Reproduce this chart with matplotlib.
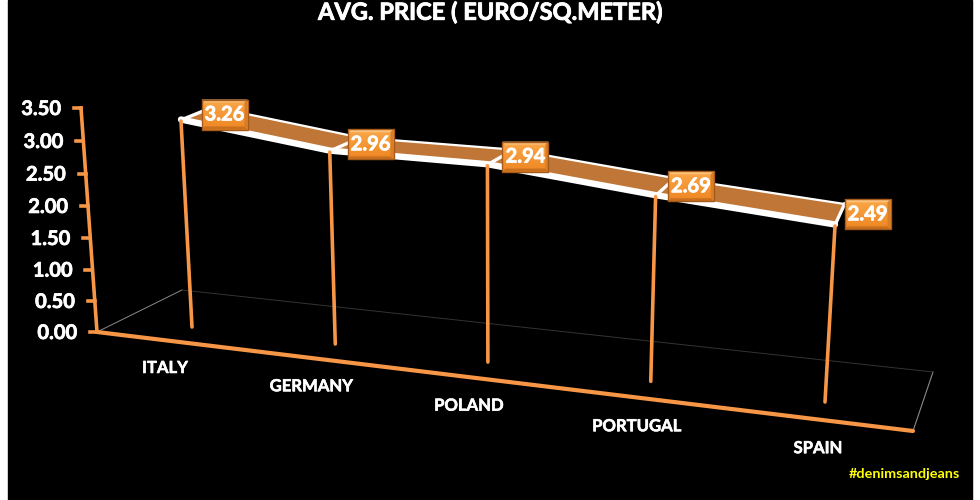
import matplotlib
matplotlib.use("Agg")
import matplotlib.pyplot as plt
import matplotlib.patheffects as pe
import numpy as np
from matplotlib.patches import Polygon, Rectangle

plt.rcParams['font.family'] = ['Lato', 'DejaVu Sans']

countries = ["ITALY", "GERMANY", "POLAND", "PORTUGAL", "SPAIN"]
prices = [3.26, 2.96, 2.94, 2.69, 2.49]
y_ticks = [0.0, 0.5, 1.0, 1.5, 2.0, 2.5, 3.0, 3.5]

ORANGE = "#f79646"
BROWN = "#c07636"


def fit_projection(src, dst):
    # plane (category, value) -> pixels on the 3d looking wall
    rows, rhs = [], []
    for (u, v), (x, y) in zip(src, dst):
        rows.append([u, v, 1, 0, 0, 0, -u * x, -v * x])
        rows.append([0, 0, 0, u, v, 1, -u * y, -v * y])
        rhs += [x, y]
    return np.append(np.linalg.solve(np.array(rows, float), np.array(rhs, float)), 1).reshape(3, 3)


H = fit_projection([(0, 0), (4, 0), (0, 3.26), (4, 2.49)],
                   [(192, 327), (825, 402), (181, 120), (835, 225)])


def project(t, v):
    p = H @ np.array([t, v, 1.0])
    return p[0] / p[2], p[1] / p[2]


def depth(t):
    # ribbon depth shrinks in x and grows in y towards the right
    return 32 - 1.4 * t ** 2, -13 - 0.5 * t ** 2


def bold(width):
    return [pe.withStroke(linewidth=width, foreground="white")]


fig = plt.figure(figsize=(9.8, 5), dpi=100, facecolor="white")
ax = fig.add_axes([0, 0, 1, 1])
ax.set_xlim(0, 980)
ax.set_ylim(500, 0)
ax.axis("off")
ax.add_patch(Rectangle((8, 0), 964, 500, color="black", zorder=0))

# floor
ax.plot([97, 182], [332, 290], color="#8a8a8a", lw=0.7, zorder=1)
ax.plot([933, 913], [372, 431], color="#8a8a8a", lw=0.8, zorder=1)
ax.plot([182, 933], [290, 372], color="#333333", lw=0.7, zorder=1)

# ribbon
n = len(prices)
front = np.array([project(i, prices[i]) for i in range(n)])
shift = np.array([depth(i) for i in range(n)])
back = front + shift
ax.add_patch(Polygon(np.vstack([front, back[::-1]]), closed=True, fc=BROWN, ec="none", zorder=3))
ax.plot(front[:, 0], front[:, 1] - 0.5, color="white", lw=4.6, solid_capstyle="round", zorder=4)
ax.plot(back[:, 0], back[:, 1], color="white", lw=1.6, zorder=4)
for i in range(n):
    ax.plot([front[i, 0], back[i, 0]], [front[i, 1], back[i, 1]], color="white", lw=2.4, zorder=4)

# drop lines
for i in range(n):
    bx, by = project(i, 0)
    ax.plot([front[i, 0], bx], [front[i, 1] + 1, by], color=ORANGE, lw=2.6,
            solid_capstyle="round", zorder=5)

# axes
ax.plot([97, 913], [332, 431], color=ORANGE, lw=3, solid_capstyle="round", zorder=6)
ax.plot([97, 81], [332, 108], color=ORANGE, lw=2.6, zorder=6)
for tick in y_ticks:
    f = tick / 3.5
    x = 97 - 16 * f
    y = 332 - 224 * f + 8 * f * (1 - f)
    ax.plot([x - 7, x], [y, y], color=ORANGE, lw=2.6, zorder=6)
    ax.text(x - 20, y + 1, f"{tick:.2f}", color="white", fontsize=14.5, fontweight="bold",
            ha="right", va="center", zorder=7, path_effects=bold(0.5))

for i, name in enumerate(countries):
    bx, by = project(i, 0)
    ax.text(bx - 27 + 5 * i - 2 * (0 < i < 4), by + 41 + 1.3 * i, name, color="white", fontsize=12,
            fontweight="bold", ha="center", va="center", zorder=7, path_effects=bold(0.4))

# value boxes
grad = np.linspace(0, 1, 64).reshape(-1, 1, 1)
c0 = np.array([0xfa, 0xa8, 0x4a]) / 255
c1 = np.array([0xee, 0x86, 0x22]) / 255
img = c0 + (c1 - c0) * grad
for i, val in enumerate(prices):
    cx = front[i, 0] + 43.5 - 2.75 * i
    cy = front[i, 1] - 5.5 - 1.3 * i
    l, r, t, b = cx - 23, cx + 23, cy - 15, cy + 15
    ax.imshow(img, extent=[l, r, b, t], aspect="auto", zorder=8)
    ax.add_patch(Polygon([(l, t), (r, t), (r - 3, t + 3), (l + 3, t + 3)], fc="#fcc27c", ec="none", zorder=9))
    ax.add_patch(Polygon([(l, b), (r, b), (r - 3, b - 3), (l + 3, b - 3)], fc="#c9701f", ec="none", zorder=9))
    ax.add_patch(Polygon([(r, t), (r, b), (r - 3, b - 3), (r - 3, t + 3)], fc="#d97d28", ec="none", zorder=9))
    ax.add_patch(Rectangle((l, t), 46, 30, fc="none", ec="#a65a1a", lw=1, zorder=9))
    ax.text(cx, cy, f"{val:.2f}", color="white", fontsize=14.5, fontweight="bold",
            ha="center", va="center", zorder=10, path_effects=bold(0.5))
ax.set_xlim(0, 980)
ax.set_ylim(500, 0)

ax.text(490, 12, "AVG. PRICE ( EURO/SQ.METER)", color="white", fontsize=17, fontweight="bold",
        ha="center", va="center", zorder=7, path_effects=bold(0.6))
ax.text(904, 474, "#denimsandjeans", color="#ffff00", fontsize=10.4, fontweight="bold",
        ha="center", va="center", zorder=7)

fig.savefig("out.png", dpi=100, facecolor="white")
